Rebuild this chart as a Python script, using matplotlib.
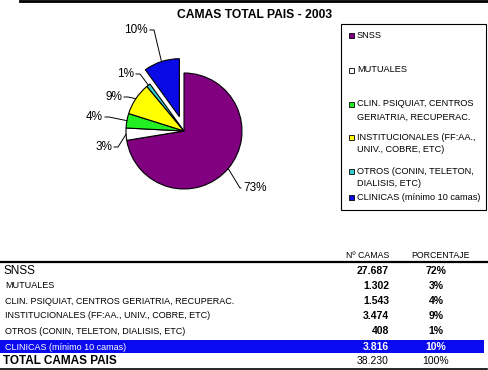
import numpy as np
import matplotlib
matplotlib.use("Agg")
import matplotlib.pyplot as plt
from matplotlib.patches import Rectangle

plt.rcParams['font.family'] = ['Liberation Sans', 'DejaVu Sans']

# data
categories = ["SNSS", "MUTUALES", "CLIN. PSIQUIAT, CENTROS GERIATRIA, RECUPERAC.",
              "INSTITUCIONALES (FF:AA., UNIV., COBRE, ETC)",
              "OTROS (CONIN, TELETON, DIALISIS, ETC)", "CLINICAS (mínimo 10 camas)"]
legend_labels = ["SNSS", "MUTUALES", "CLIN. PSIQUIAT, CENTROS\nGERIATRIA, RECUPERAC.",
                 "INSTITUCIONALES (FF:AA.,\nUNIV., COBRE, ETC)",
                 "OTROS (CONIN, TELETON,\nDIALISIS, ETC)", "CLINICAS (mínimo 10 camas)"]
camas = [27687, 1302, 1543, 3474, 408, 3816]
pie_labels = ["73%", "3%", "4%", "9%", "1%", "10%"]
table_pct = ["72%", "3%", "4%", "9%", "1%", "10%"]
total_camas = 38230
total_pct = "100%"
colors = ["#800080", "#ffffff", "#22ee22", "#ffff00", "#33cccc", "#0a0ae6"]

W, H = 488, 370
fig = plt.figure(figsize=(W / 100, H / 100), dpi=100)
ax = fig.add_axes([0, 0, 1, 1])


def Y(y):
    return H - y


# pie (explode is in data units here, i.e. pixels)
cx, cy, r = 184, 131, 58
explode = [0, 0, 0, 0, 0, 15]
ax.pie(camas, colors=colors, startangle=90, counterclock=False,
       center=(cx, Y(cy)), radius=r, explode=explode,
       wedgeprops=dict(edgecolor='black', linewidth=0.8), frame=True)
ax.set_xlim(0, W)
ax.set_ylim(0, H)
ax.axis('off')

# labels with leader lines (text anchor x, y, ha)
label_pos = [(243, 188, 'left'), (112, 147, 'right'), (103, 117, 'right'),
             (122, 97, 'right'), (134, 74, 'right'), (148, 30, 'right')]
fr = np.cumsum([0] + camas) / sum(camas)
for i, (lx, ly, ha) in enumerate(label_pos):
    mid = 90 - 360 * (fr[i] + fr[i + 1]) / 2
    rr = r + explode[i]
    ex = cx + rr * np.cos(np.radians(mid))
    ey = cy - rr * np.sin(np.radians(mid))
    ax.text(lx, Y(ly), pie_labels[i], ha=ha, va='center', fontsize=8.5,
            fontstretch='condensed')
    sx = lx + 2 if ha == 'right' else lx - 2
    hx = sx + 4 if ha == 'right' else sx - 1
    ax.plot([sx, hx, ex], [Y(ly), Y(ly), Y(ey)], color='black', lw=0.7)

# title and top rule
ax.text(255, Y(15), "CAMAS TOTAL PAIS - 2003", ha='center', va='center',
        fontsize=8.7, fontweight='bold')
ax.plot([20, 488], [Y(1), Y(1)], color='black', lw=2)

# legend box
ax.add_patch(Rectangle((341, Y(210)), 145, 186, facecolor='white',
                       edgecolor='black', lw=0.8))
leg_y = [35, 70, 104, 137, 171, 197]
for i, lab in enumerate(legend_labels):
    ax.add_patch(Rectangle((348.5, Y(leg_y[i]) - 2.5), 5, 5, facecolor=colors[i],
                           edgecolor='black', lw=0.6))
    lines = lab.split('\n')
    for j, line in enumerate(lines):
        ax.text(357, Y(leg_y[i] + 13 * j), line, ha='left', va='center',
                fontsize=6.6)

# table
ax.text(389, Y(256), "Nº CAMAS", ha='right', va='center', fontsize=6.3)
ax.text(440, Y(256), "PORCENTAJE", ha='center', va='center', fontsize=6.3)
ax.plot([0, 487], [Y(262), Y(262)], color='black', lw=1.6)
ax.add_patch(Rectangle((0, Y(353)), 484, 13, facecolor='#0a0af0', edgecolor='none'))
row_y = [271, 286, 301, 316, 331, 347]
for i, name in enumerate(categories):
    c = 'white' if i == 5 else 'black'
    fs = 8.5 if i == 0 else 6.5
    ax.text(3 if i == 0 else 5, Y(row_y[i]), name, ha='left', va='center',
            fontsize=fs, color=c)
    ax.text(389, Y(row_y[i]), f"{camas[i]:,}".replace(',', '.'), ha='right',
            va='center', fontsize=7.5, fontweight='bold', color=c)
    ax.text(436, Y(row_y[i]), table_pct[i], ha='center', va='center',
            fontsize=7.5, fontweight='bold', color=c)
ax.text(3, Y(361), "TOTAL CAMAS PAIS", ha='left', va='center', fontsize=8.5,
        fontweight='bold')
ax.text(389, Y(361), f"{total_camas:,}".replace(',', '.'), ha='right', va='center',
        fontsize=7.5)
ax.text(436, Y(361), total_pct, ha='center', va='center', fontsize=7.5)
ax.plot([0, 487], [Y(369), Y(369)], color='black', lw=1.2)

fig.savefig("out.png", dpi=100)
